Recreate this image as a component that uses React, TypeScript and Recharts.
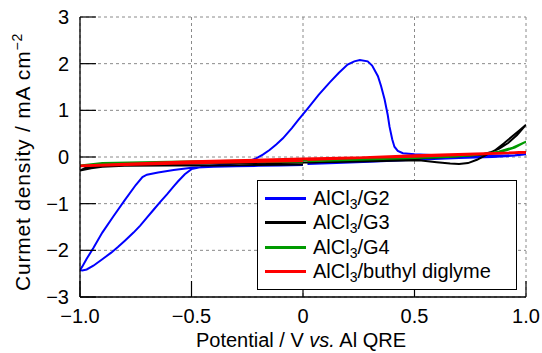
import React from 'react';
import { LineChart, Line, XAxis, YAxis, CartesianGrid } from 'recharts';

const FONT = '"Liberation Sans", Arial, Helvetica, sans-serif';

// axis ticks
const xTicks = [-1, -0.5, 0, 0.5, 1];
const xTickLabels = ['\u22121.0', '\u22120.5', '0', '0.5', '1.0'];
const yTicks = [-3, -2, -1, 0, 1, 2, 3];
const yTickLabels = ['\u22123', '\u22122', '\u22121', '0', '1', '2', '3'];

// AlCl3/G2 : potential (V) and current density (mA cm-2), in sweep order
const g2Potential = [
  0.0, -0.1, -0.2, -0.3, -0.4, -0.5, -0.58, -0.65, -0.7, -0.72, -0.75, -0.8, -0.85, -0.9, -0.94, -0.97, -0.99, -1.0,
  -0.99, -0.97, -0.94, -0.9, -0.86, -0.83, -0.8, -0.76, -0.73, -0.7, -0.67, -0.64, -0.61, -0.58, -0.56, -0.53, -0.5,
  -0.45, -0.4, -0.3, -0.25,
  -0.21, -0.18, -0.15, -0.12, -0.09, -0.05, -0.02, 0.02, 0.07, 0.12, 0.16, 0.2, 0.23, 0.255, 0.29, 0.31, 0.336,
  0.35, 0.366, 0.38, 0.388, 0.4, 0.41, 0.425, 0.448, 0.5, 0.6, 0.7, 0.8, 0.9, 0.95, 1.0,
  0.95, 0.85, 0.7, 0.5, 0.3, 0.15, 0.02,
];
const g2Current = [
  -0.17, -0.18, -0.19, -0.2, -0.21, -0.23, -0.28, -0.33, -0.38, -0.43, -0.6, -0.93, -1.27, -1.62, -1.95, -2.18, -2.35, -2.42,
  -2.43, -2.41, -2.33, -2.19, -2.05, -1.93, -1.8, -1.62, -1.47, -1.3, -1.13, -0.96, -0.8, -0.63, -0.52, -0.37, -0.26,
  -0.21, -0.18, -0.14, -0.1,
  -0.03, 0.05, 0.15, 0.27, 0.4, 0.62, 0.8, 1.03, 1.33, 1.6, 1.8, 1.98, 2.05, 2.08, 2.05, 1.96, 1.73,
  1.52, 1.23, 0.9, 0.65, 0.38, 0.22, 0.13, 0.08, 0.06, 0.04, 0.03, 0.03, 0.03, 0.04, 0.06,
  0.03, 0.0, -0.02, -0.06, -0.1, -0.13, -0.15,
];

// AlCl3/G3
const g3Potential = [
  0.0, -0.2, -0.4, -0.6, -0.8, -0.9, -0.95, -1.0,
  -0.97, -0.93, -0.85, -0.6, -0.3, 0.0, 0.2, 0.4, 0.52, 0.6, 0.66, 0.7, 0.74, 0.78, 0.82, 0.86, 0.9, 0.94, 0.97, 1.0,
  0.96, 0.92, 0.88, 0.84, 0.8, 0.72, 0.6, 0.45, 0.25, 0.05,
];
const g3Current = [
  -0.16, -0.17, -0.18, -0.18, -0.19, -0.21, -0.24, -0.29,
  -0.22, -0.18, -0.16, -0.14, -0.13, -0.12, -0.1, -0.08, -0.07, -0.11, -0.14, -0.15, -0.13, -0.06, 0.04, 0.14, 0.29, 0.45, 0.57, 0.69,
  0.47, 0.3, 0.18, 0.1, 0.05, 0.02, -0.01, -0.04, -0.08, -0.12,
];

// AlCl3/G4
const g4Potential = [
  0.0, -0.3, -0.6, -0.85, -1.0,
  -0.9, -0.6, -0.3, 0.0, 0.3, 0.5, 0.65, 0.75, 0.82, 0.88, 0.94, 1.0,
  0.95, 0.9, 0.85, 0.8, 0.7, 0.5, 0.25, 0.02,
];
const g4Current = [
  -0.1, -0.11, -0.13, -0.15, -0.18,
  -0.13, -0.1, -0.08, -0.07, -0.04, -0.02, 0.0, 0.03, 0.07, 0.12, 0.2, 0.33,
  0.2, 0.13, 0.09, 0.06, 0.02, -0.02, -0.06, -0.09,
];

// AlCl3/buthyl diglyme
const bdgPotential = [0.0, -0.5, -1.0, -0.5, 0.0, 0.5, 1.0, 0.5, 0.02];
const bdgCurrent = [-0.08, -0.13, -0.19, -0.1, -0.04, 0.01, 0.1, 0.03, -0.06];

const seriesNames = ['G2', 'G3', 'G4', 'buthyl diglyme'];
const seriesColors = ['#0000ff', '#000000', '#009a00', '#ff0000'];
const seriesWidths = [2, 2, 2, 2.6];

const toPoints = (xs: number[], ys: number[]) => xs.map((x, i) => ({ x, y: ys[i] }));

const seriesData = [
  toPoints(g2Potential, g2Current),
  toPoints(g3Potential, g3Current),
  toPoints(g4Potential, g4Current),
  toPoints(bdgPotential, bdgCurrent),
];

const TICK_LEN = 16;
const TICK_FONT = 20;

function BottomTick(props: any) {
  const { x, y, payload } = props;
  const i = xTicks.indexOf(payload.value);
  return (
    <g>
      <line x1={x} x2={x} y1={y} y2={y - TICK_LEN} stroke="#000" strokeWidth={1.2} />
      <text x={x} y={y + 26} textAnchor="middle" fontSize={TICK_FONT} fontFamily={FONT} fill="#000">
        {xTickLabels[i]}
      </text>
    </g>
  );
}

function TopTick(props: any) {
  const { x, y } = props;
  return <line x1={x} x2={x} y1={y} y2={y + TICK_LEN} stroke="#000" strokeWidth={1.2} />;
}

function LeftTick(props: any) {
  const { x, y, payload } = props;
  const i = yTicks.indexOf(payload.value);
  return (
    <g>
      <line x1={x} x2={x + TICK_LEN} y1={y} y2={y} stroke="#000" strokeWidth={1.2} />
      <text x={x - 11} y={y + 7} textAnchor="end" fontSize={TICK_FONT} fontFamily={FONT} fill="#000">
        {yTickLabels[i]}
      </text>
    </g>
  );
}

function RightTick(props: any) {
  const { x, y } = props;
  return <line x1={x} x2={x - TICK_LEN} y1={y} y2={y} stroke="#000" strokeWidth={1.2} />;
}

function XTitle(props: any) {
  const { viewBox } = props;
  const cx = viewBox.x + viewBox.width / 2 - 2;
  return (
    <text x={cx} y={viewBox.y + 50} textAnchor="middle" fontSize={20} fontFamily={FONT} fill="#000">
      Potential / V <tspan fontStyle="italic">vs.</tspan> Al QRE
    </text>
  );
}

function YTitle(props: any) {
  const { viewBox } = props;
  const cx = 30;
  const cy = viewBox.y + viewBox.height / 2 + 5;
  return (
    <text
      x={cx}
      y={cy}
      transform={`rotate(-90 ${cx} ${cy})`}
      textAnchor="middle"
      fontSize={21}
      letterSpacing={0.8}
      fontFamily={FONT}
      fill="#000"
    >
      Curmet density / mA cm
      <tspan dy={-8} fontSize={14}>{'\u22122'}</tspan>
    </text>
  );
}

function LegendBox() {
  return (
    <div
      style={{
        position: 'absolute',
        left: 257,
        top: 180,
        width: 258,
        padding: '5px 0 5px 0',
        border: '1.3px solid #000',
        background: '#fff',
        fontFamily: FONT,
        fontSize: 20,
        color: '#000',
      }}
    >
      {seriesNames.map((name, i) => (
        <div key={name} style={{ display: 'flex', alignItems: 'center', height: 24.5 }}>
          <span
            style={{
              display: 'inline-block',
              width: 41,
              height: 3,
              background: seriesColors[i],
              marginLeft: 7,
              marginRight: 7,
            }}
          />
          <span style={{ whiteSpace: 'nowrap' }}>
            AlCl<sub style={{ fontSize: 14, verticalAlign: -4, lineHeight: 0 }}>3</sub>/{name}
          </span>
        </div>
      ))}
    </div>
  );
}

export default function App() {
  // pinned to the page corner so the 8px body margin does not push the chart
  return (
    <div style={{ position: 'absolute', left: 0, top: 0, width: 542, height: 353 }}>
      <LineChart width={542} height={353} margin={{ top: 17, right: 16, bottom: 16, left: 20 }}>
        <CartesianGrid stroke="#8a8a8a" strokeDasharray="3 3" strokeWidth={1} />
        <XAxis
          dataKey="x"
          type="number"
          domain={[-1, 1]}
          ticks={xTicks}
          interval={0}
          allowDataOverflow
          height={40}
          tickSize={0}
          tickMargin={0}
          tickLine={false}
          axisLine={{ stroke: '#000', strokeWidth: 1.3 }}
          tick={<BottomTick />}
          label={<XTitle />}
        />
        <XAxis
          xAxisId="top"
          orientation="top"
          dataKey="x"
          type="number"
          domain={[-1, 1]}
          ticks={xTicks}
          interval={0}
          allowDataOverflow
          height={0}
          tickSize={0}
          tickMargin={0}
          tickLine={false}
          axisLine={{ stroke: '#000', strokeWidth: 1.3 }}
          tick={<TopTick />}
        />
        <YAxis
          dataKey="y"
          type="number"
          domain={[-3, 3]}
          ticks={yTicks}
          interval={0}
          allowDataOverflow
          width={60}
          tickSize={0}
          tickMargin={0}
          tickLine={false}
          axisLine={{ stroke: '#000', strokeWidth: 1.3 }}
          tick={<LeftTick />}
          label={<YTitle />}
        />
        <YAxis
          yAxisId="right"
          orientation="right"
          dataKey="y"
          type="number"
          domain={[-3, 3]}
          ticks={yTicks}
          interval={0}
          allowDataOverflow
          width={0}
          tickSize={0}
          tickMargin={0}
          tickLine={false}
          axisLine={{ stroke: '#000', strokeWidth: 1.3 }}
          tick={<RightTick />}
        />
        {seriesData.map((pts, i) => (
          <Line
            key={seriesNames[i]}
            data={pts}
            dataKey="y"
            name={`AlCl3/${seriesNames[i]}`}
            type="linear"
            stroke={seriesColors[i]}
            strokeWidth={seriesWidths[i]}
            dot={false}
            activeDot={false}
            isAnimationActive={false}
          />
        ))}
      </LineChart>
      <LegendBox />
    </div>
  );
}
